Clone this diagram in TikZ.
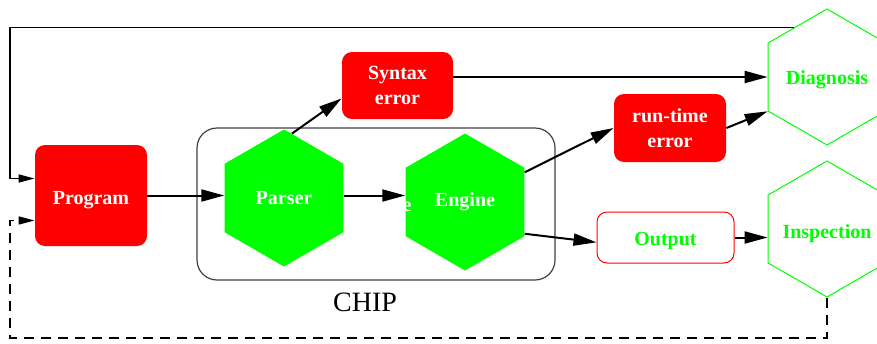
\documentclass[tikz,border=0pt]{standalone}
\usepackage{fontspec}
\setmainfont{Liberation Serif}
\usepackage{tikz}
\usetikzlibrary{arrows.meta,shapes.geometric,calc}

\begin{document}
\begin{tikzpicture}[
  x=0.5pt, y=-0.5pt,
  font=\bfseries\fontsize{10}{12.5}\selectfont,
  low/.style={text height=#1, text depth=0pt},
  redbox/.style={rectangle, rounded corners=5pt, fill=red, text=white,
                 align=center, inner sep=2pt},
  outbox/.style={rectangle, rounded corners=5pt, draw=red, line width=0.5pt,
                 fill=white, text=green, minimum width=68.5pt, minimum height=25.5pt},
  hexfill/.style={regular polygon, regular polygon sides=6, shape border rotate=30,
                  fill=green, text=white, minimum size=68.5pt, inner sep=0pt},
  hexline/.style 2 args={regular polygon, regular polygon sides=6, shape border rotate=30,
                  draw=green, line width=0.5pt, minimum size=68pt, inner sep=0pt,
                  label={[text=green, low=#2]center:#1}},
  chipbox/.style={rectangle, rounded corners=10pt, draw=black!75, line width=0.6pt,
                  minimum width=179pt, minimum height=76pt},
  arr/.style={-{Triangle[length=11.5pt,width=6pt]}, line width=1pt},
  back/.style={-{Triangle[length=8pt,width=4pt]}, line width=0.8pt}
]
\clip (0,0) rectangle (877,343);

%% chip with parser and engine
\node[chipbox] (chip) at (376,204) {};
\node[font=\mdseries\fontsize{14}{16}\selectfont] (chiplabel) at (365,302) {CHIP};
\node[hexfill] (parser) at (284,198) {Parser};
\node[hexfill] (engine) at (465,202) {Engine};
\node[text=white] (stray) at (407,207) {e};

%% input and results
\node[redbox, low=8.5pt, minimum width=56pt, minimum height=50.5pt] (prog) at (91,195.5) {Program};
\node[redbox, minimum width=55.5pt, minimum height=33.5pt] (syntax) at (397.5,85.5) {Syntax\\error};
\node[redbox, minimum width=56pt, minimum height=34pt] (rte) at (670,128) {run-time\\error};
\node[outbox, low=7.5pt] (output) at (665.5,237.5) {Output};

%% checks
\node[hexline={Diagnosis}{7pt}] (diag) at (827,77) {};
\node[hexline={Inspection}{9pt}] (insp) at (827,229) {};

%% edges
\draw[arr] (prog.east) -- (prog.east -| parser.west);
\draw[arr] (prog.east -| parser.east) -- (prog.east -| engine.west);
\draw[arr] (parser.83) -- (syntax.193);
\draw[arr] (syntax.east |- diag.west) -- (diag.west);
\draw[arr] (engine) -- (rte.west);
\draw[arr] (rte.east) -- (diag.210);
\draw[arr] (engine.-28) -- (output.184);
\draw[arr] (output.east) -- (output.east -| insp.west);

%% feedback to the program
\coordinate (loop) at (10,338);
\draw[back] (diag.124) -- (diag.124 -| loop) |- ($(prog.west)+(0,-17)$);
\draw[back, dash pattern=on 5pt off 3.5pt] (insp.south) |- (loop) |- ($(prog.west)+(0,25)$);
\end{tikzpicture}
\end{document}
